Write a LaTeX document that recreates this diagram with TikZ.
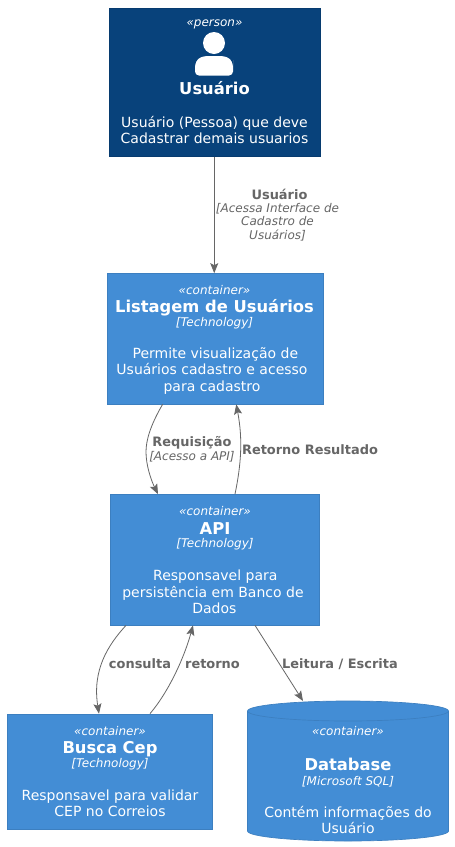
\documentclass[tikz,border=0pt]{standalone}
\usepackage{fontspec}
\setmainfont{DejaVu Sans}
\usetikzlibrary{arrows.meta,shapes.geometric}
\definecolor{personc}{HTML}{08427B}
\definecolor{personb}{HTML}{073B6F}
\definecolor{contc}{HTML}{438DD5}
\definecolor{contb}{HTML}{3C7FC0}
\definecolor{linec}{HTML}{666666}
\tikzset{
 x=0.75pt,y=-0.75pt,
 box/.style={draw=contb,fill=contc,line width=0.5pt,inner sep=0,rectangle},
 personbox/.style={draw=personb,fill=personc,line width=0.5pt,inner sep=0,rectangle},
 inbox/.style={text=white,align=center,inner sep=0,anchor=center},
 stereo/.style={inbox,font=\fontsize{9}{10}\selectfont\itshape},
 titl/.style={inbox,font=\fontsize{12.25}{14}\selectfont\bfseries},
 tech/.style={inbox,font=\fontsize{9}{10}\selectfont\itshape},
 desc/.style={inbox,font=\fontsize{10.5}{12.2}\selectfont},
 conn/.style={draw=linec,line width=0.6pt,-{Stealth[length=7.5pt,width=6pt,inset=1.5pt]}},
 lab/.style={text=linec,align=center,inner sep=0,font=\fontsize{9.7}{10}\selectfont\bfseries},
 labi/.style={text=linec,align=center,inner sep=0,font=\fontsize{9}{10}\selectfont\itshape},
}
\begin{document}
\begin{tikzpicture}
\useasboundingbox (0,0) rectangle (454,847);
\fill[white] (0,0) rectangle (454,847);
\node[personbox,minimum width=158.6pt,minimum height=111.4pt] (user) at (214.75,82.25) {};
\node[stereo] (us) at (214.5,24) {«person»};
\fill[white] (214,43) circle (11);
\fill[white,rounded corners=3] (195,75.5) -- (195,56) -- (233,56) -- (233,75.5) -- cycle;
\fill[personc] (195,56) -- (206,56) .. controls (199,56.5) and (195.5,60) .. (195,66) -- cycle;
\fill[personc] (233,56) -- (222,56) .. controls (229,56.5) and (232.5,60) .. (233,66) -- cycle;
\node[titl] (ut) at (214.5,88) {Usuário};
\node[desc] (ud) at (214.5,130) {Usuário (Pessoa) que deve\\Cadastrar demais usuarios};
\node[box,minimum width=162.4pt,minimum height=97.9pt] (list) at (215.25,338.75) {};
\node[stereo] (ls) at (214.5,290) {«container»};
\node[titl] (lt2) at (214.5,308) {Listagem de Usuários};
\node[tech] (ltech) at (214.5,323.5) {[Technology]};
\node[desc] (ld) at (212,371) {\hspace*{5pt}Permite visualização de\\Usuários cadastro e acesso\\para cadastro};
\node[box,minimum width=156.8pt,minimum height=97.9pt] (api) at (215,559.75) {};
\node[stereo] (as) at (215,511) {«container»};
\node[titl] (at) at (215,529) {API};
\node[tech] (atech) at (215,544.5) {[Technology]};
\node[desc] (ad) at (213,592) {\hspace*{3.5pt}Responsavel para\\persistência em Banco de\\\hspace*{2pt}Dados};
\node[box,minimum width=153.8pt,minimum height=86.6pt] (cep) at (110,771.75) {};
\node[stereo] (bs) at (110,731) {«container»};
\node[titl] (bt) at (110,749) {Busca Cep};
\node[tech] (btech) at (110,764.5) {[Technology]};
\node[desc] (bd) at (110,803) {Responsavel para validar\\CEP no Correios};
\path[box] (247.5,711) -- (247.5,831) arc[start angle=180,end angle=360,x radius=100.5,y radius=-10] -- (448.5,711) arc[start angle=0,end angle=180,x radius=100.5,y radius=-10] -- cycle;
\draw[contb,line width=0.5pt] (247.5,711) arc[start angle=180,end angle=360,x radius=100.5,y radius=-10];
\coordinate (dbtop) at (303,701);
\node[stereo] (ds) at (348,731) {«container»};
\node[titl] (dt) at (348,764.5) {Database};
\node[tech] (dtech) at (348,781.5) {[Microsoft SQL]};
\node[desc] (dd) at (348,820) {Contém informações do\\Usuário};
\draw[conn] (user.south -| list.north) ++(-0.75pt,0) -- ([xshift=-0.75pt]list.north);
\node[lab] (l1) at (279.5,194) {Usuário};
\node[labi] (l1b) at (277.5,222) {[Acessa Interface de\\Cadastro de\\Usuários]};
\draw[conn] ([xshift=-39.5pt]list.south) .. controls +(-9pt,-15.5pt) and (146,440) .. (146,452) .. controls (146,465) and (151,480) .. ([xshift=-42.75pt]api.north);
\node[lab] (l2) at (192,443) {Requisição};
\node[labi] (l2b) at (192,457) {[Acesso a API]};
\draw[conn] ([xshift=15pt]api.north) .. controls (241,465) and (243,440) .. ([xshift=15.75pt]list.south);
\node[lab] (l3) at (310,450) {Retorno Resultado};
\draw[conn] ([xshift=-66.75pt]api.south) .. controls (108,645) and (92,670) .. ([xshift=-8.25pt]cep.north);
\node[lab] (l4) at (140,664) {consulta};
\draw[conn] ([xshift=30pt]cep.north) .. controls (170,690) and (185,655) .. ([xshift=-16.5pt]api.south);
\node[lab] (l5) at (212.5,664) {retorno};
\draw[conn] ([xshift=30pt]api.south) -- (dbtop);
\node[lab] (l6) at (340,664) {Leitura / Escrita};
\end{tikzpicture}
\end{document}
